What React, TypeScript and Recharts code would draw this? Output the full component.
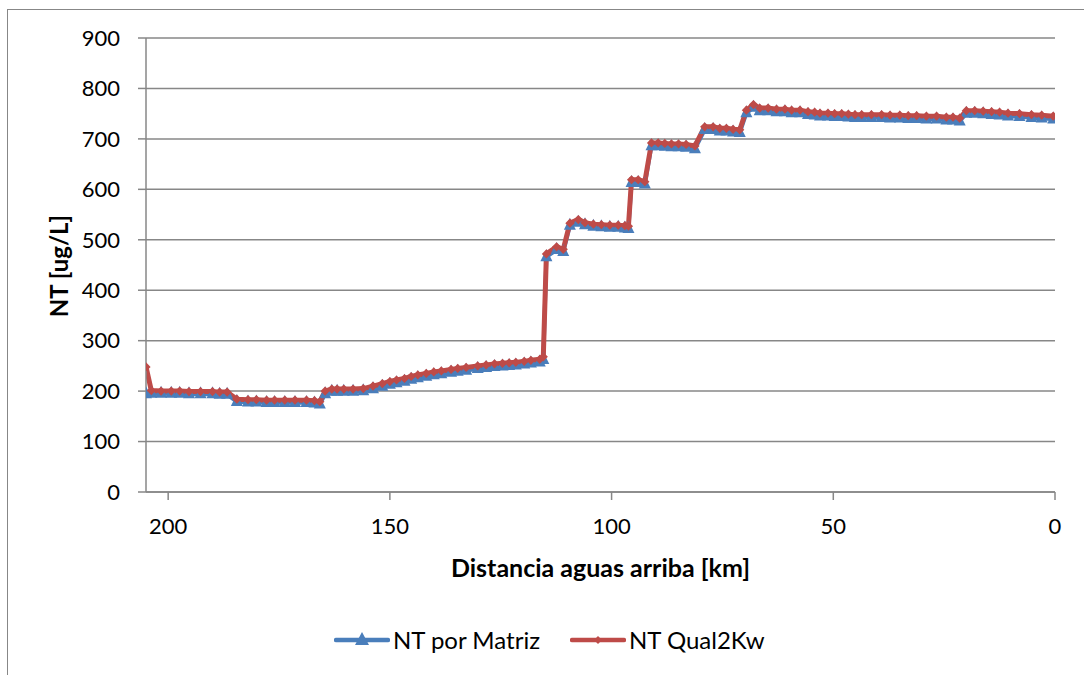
import React from 'react';
import { LineChart, Line, XAxis, YAxis, CartesianGrid, Label } from 'recharts';

// Distance upstream [km]
const kmValues = [
  205, 203.8, 201.6, 199.3, 197.4, 195.3, 192.7, 190.0, 188.4, 186.7,
  184.5, 182.0, 180.1, 177.8, 176.0, 173.7, 171.4, 168.8, 167.0, 165.8,
  164.6, 163.1, 161.9, 160.4, 158.3, 156.0, 153.8, 151.7, 150.0, 148.5,
  146.7, 145.2, 143.7, 141.8, 140.1, 138.4, 136.2, 134.7, 132.8, 130.2,
  128.3, 126.4, 124.6, 123.1, 121.6, 119.7, 118.2, 116.2, 115.4,
  114.7, 112.4, 110.9, 109.4, 107.5, 106.0, 104.1, 102.3, 100.4, 98.5, 97.0, 96.2,
  95.5, 94.0, 92.5,
  91.0, 89.5, 88.0, 86.5, 84.9, 83.2, 81.2,
  79.0, 77.1, 75.6, 74.1, 72.6, 71.1,
  69.6, 68.0, 66.6, 64.7, 62.8, 60.9, 59.4, 57.5, 55.7, 54.2, 53.0, 51.2, 49.7,
  48.1, 46.6, 45.1, 43.6, 41.4, 39.1, 37.2, 35.0, 33.1, 31.2, 29.0, 26.7, 24.5,
  23.0, 21.5, 20.0, 18.1, 16.2, 14.3, 12.5, 10.6, 8.0, 5.3, 3.0, 0.4,
];

// NT por Matriz [ug/L]
const ntMatriz = [
  194, 195, 195, 195, 195, 194, 194, 194, 193, 193,
  179, 178, 178, 177, 177, 177, 177, 177, 176, 174,
  194, 199, 199, 199, 199, 200, 204, 209, 213, 216,
  219, 223, 226, 229, 232, 234, 237, 239, 241, 244,
  246, 248, 249, 250, 251, 253, 255, 257, 262,
  466, 480, 476, 528, 534, 529, 526, 525, 524, 524, 523, 522,
  613, 613, 610,
  686, 686, 685, 684, 684, 683, 680,
  718, 718, 715, 715, 713, 712,
  751, 762, 755, 755, 753, 753, 751, 751, 748, 747, 745, 745, 744,
  744, 743, 742, 742, 742, 742, 741, 741, 740, 740, 739, 739, 737,
  737, 735, 750, 750, 749, 748, 747, 745, 744, 742, 741, 739,
];

// NT Qual2Kw [ug/L]
const ntQual2Kw = [
  248, 201, 200, 200, 200, 199, 199, 199, 198, 198,
  184, 183, 183, 182, 182, 182, 182, 182, 181, 179,
  200, 204, 204, 204, 204, 205, 210, 215, 219, 222,
  225, 229, 232, 235, 238, 240, 243, 245, 247, 250,
  252, 254, 255, 256, 257, 259, 261, 263, 268,
  472, 486, 481, 533, 540, 534, 531, 530, 529, 529, 528, 527,
  619, 619, 615,
  692, 692, 691, 690, 690, 689, 686,
  724, 724, 721, 721, 719, 718,
  757, 768, 761, 761, 759, 759, 757, 757, 754, 753, 751, 751, 750,
  750, 749, 748, 748, 748, 748, 747, 747, 746, 746, 745, 745, 743,
  743, 741, 756, 756, 755, 754, 753, 751, 750, 748, 747, 745,
];

const seriesNames = ['NT por Matriz', 'NT Qual2Kw'];
const xTicks = [0, 50, 100, 150, 200];
const yTicks = [0, 100, 200, 300, 400, 500, 600, 700, 800, 900];
const xTitle = 'Distancia aguas arriba [km]';
const yTitle = 'NT [ug/L]';

const data = kmValues.map((km, i) => ({ km, matriz: ntMatriz[i], qual: ntQual2Kw[i] }));

const BLUE = '#4A7EBB';
const RED = '#BE4B48';
const GRID = '#878787';
const FONT = 'Lato, "Open Sans", "Noto Sans", sans-serif';

const TriangleDot = (props: any) => {
  const { cx, cy, index } = props;
  if (cx == null || cy == null) return <g key={`t${index}`} />;
  const s = 6;
  return (
    <path
      key={`t${index}`}
      d={`M${cx},${cy - s * 1.3} L${cx + s},${cy + s * 0.7} L${cx - s},${cy + s * 0.7} Z`}
      fill={BLUE}
    />
  );
};

const DiamondDot = (props: any) => {
  const { cx, cy, index } = props;
  if (cx == null || cy == null) return <g key={`d${index}`} />;
  const s = 4.6;
  return (
    <path
      key={`d${index}`}
      d={`M${cx},${cy - s} L${cx + s},${cy} L${cx},${cy + s} L${cx - s},${cy} Z`}
      fill={RED}
    />
  );
};

const XTitle = (props: any) => {
  const vb = props.viewBox || {};
  return (
    <text
      x={vb.x + vb.width / 2}
      y={567}
      textAnchor="middle"
      dominantBaseline="central"
      fontFamily={FONT}
      fontWeight={700}
      fontSize={25}
      fill="#000"
    >
      {xTitle}
    </text>
  );
};

const YTitle = () => (
  <text
    x={58}
    y={266}
    transform="rotate(-90 58 266)"
    textAnchor="middle"
    dominantBaseline="central"
    fontFamily={FONT}
    fontWeight={700}
    fontSize={24}
    fill="#000"
  >
    {yTitle}
  </text>
);

const LegendItem = ({ color, name, marker }: { color: string; name: string; marker: 'tri' | 'dia' }) => (
  <div style={{ display: 'flex', alignItems: 'center' }}>
    <svg width={56} height={22} style={{ display: 'block' }}>
      <line x1={2} y1={11} x2={54} y2={11} stroke={color} strokeWidth={4.5} strokeLinecap="round" />
      {marker === 'tri' ? (
        <path d="M28,3 L35,16 L21,16 Z" fill={color} />
      ) : (
        <path d="M28,7 L32,11 L28,15 L24,11 Z" fill={color} />
      )}
    </svg>
    <span style={{ marginLeft: 3, fontFamily: FONT, fontSize: 24, color: '#000', lineHeight: '28px' }}>{name}</span>
  </div>
);

export default function App() {
  return (
    <div style={{ position: 'fixed', left: 0, top: 0, width: 1084, height: 675, overflow: 'hidden', background: '#fff' }}>
      <div
        style={{
          position: 'absolute',
          left: 7,
          top: 9,
          width: 1200,
          height: 800,
          border: `1.5px solid ${GRID}`,
          boxSizing: 'border-box',
        }}
      />
      <div style={{ position: 'absolute', left: 0, top: 0 }}>
        <LineChart width={1084} height={675} data={data} margin={{ top: 38, right: 29, left: 0, bottom: 0 }}>
          <CartesianGrid vertical={false} stroke={GRID} strokeWidth={1.5} horizontalValues={yTicks} />
          <XAxis
            type="number"
            dataKey="km"
            domain={[0, 205]}
            reversed
            ticks={xTicks}
            allowDataOverflow
            height={183}
            tickSize={8}
            tickMargin={18}
            axisLine={{ stroke: GRID, strokeWidth: 1.5 }}
            tickLine={{ stroke: GRID, strokeWidth: 1.5 }}
            tick={{ fill: '#000', fontSize: 22, fontFamily: FONT }}
          >
            <Label content={XTitle} />
          </XAxis>
          <YAxis
            type="number"
            domain={[0, 900]}
            ticks={yTicks}
            width={146}
            tickSize={8}
            tickMargin={18}
            axisLine={{ stroke: GRID, strokeWidth: 1.5 }}
            tickLine={{ stroke: GRID, strokeWidth: 1.5 }}
            tick={{ fill: '#000', fontSize: 22, fontFamily: FONT }}
          >
            <Label content={YTitle} />
          </YAxis>
          <Line
            type="linear"
            dataKey="matriz"
            name={seriesNames[0]}
            stroke={BLUE}
            strokeWidth={4}
            dot={TriangleDot}
            activeDot={false}
            isAnimationActive={false}
          />
          <Line
            type="linear"
            dataKey="qual"
            name={seriesNames[1]}
            stroke={RED}
            strokeWidth={5}
            dot={DiamondDot}
            activeDot={false}
            isAnimationActive={false}
          />
        </LineChart>
      </div>
      <div style={{ position: 'absolute', left: 334, top: 626, display: 'flex', alignItems: 'center' }}>
        <LegendItem color={BLUE} name={seriesNames[0]} marker="tri" />
        <div style={{ width: 30 }} />
        <LegendItem color={RED} name={seriesNames[1]} marker="dia" />
      </div>
    </div>
  );
}
